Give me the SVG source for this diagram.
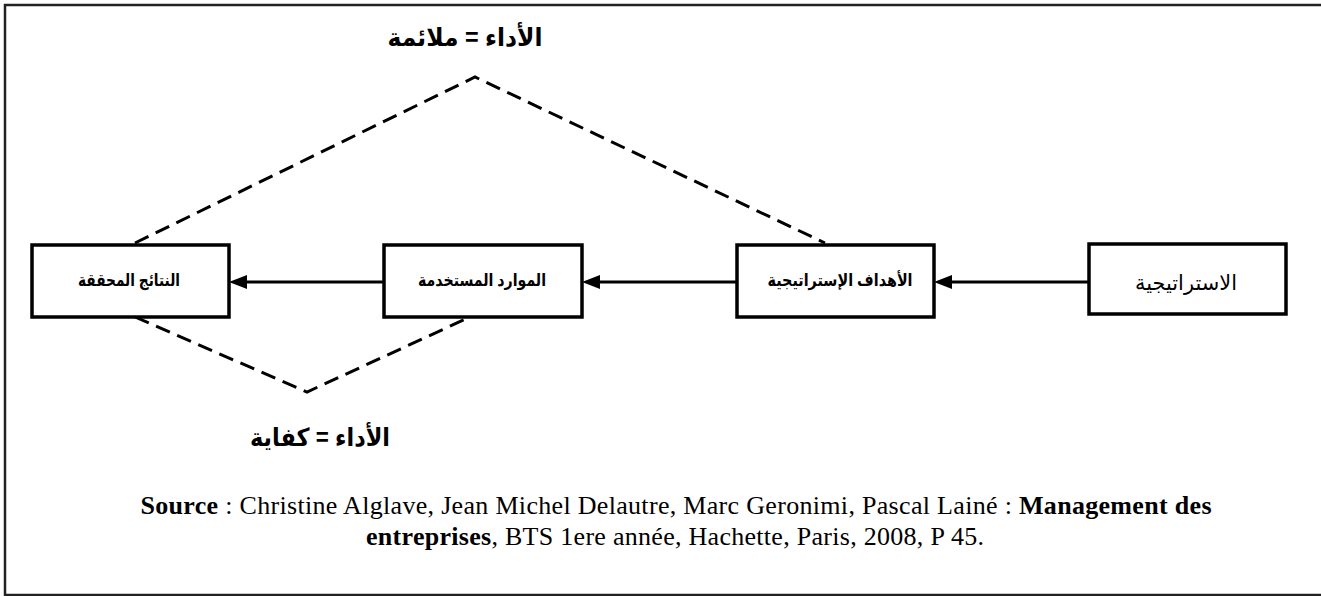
<svg xmlns="http://www.w3.org/2000/svg" width="1321" height="596" viewBox="0 0 1321 596">
<defs>
<marker id="arr" viewBox="0 0 18 14" refX="8" refY="7" markerWidth="18" markerHeight="14" markerUnits="userSpaceOnUse" orient="auto">
<path d="M0,0 L18,7 L0,14 z" fill="#000"/>
</marker>
</defs>
<style>
.box{fill:#fff;stroke:#000;stroke-width:3.5}
.lbl{font-family:"Liberation Sans","DejaVu Sans",sans-serif;font-size:17px;font-weight:bold;text-anchor:middle;fill:#000}
.lbln{font-family:"Liberation Sans","DejaVu Sans",sans-serif;font-size:21px;text-anchor:middle;fill:#000}
.big{font-family:"Liberation Sans","DejaVu Sans",sans-serif;font-size:25px;font-weight:bold;text-anchor:middle;fill:#000}
.conn{stroke:#000;stroke-width:3;fill:none}
.dash{stroke:#000;stroke-width:3;fill:none;stroke-dasharray:15 8}
.src{font-family:"Liberation Serif","Times New Roman",serif;font-size:26px;text-anchor:middle;fill:#000}
</style>
<rect x="0" y="0" width="1321" height="596" fill="#fff"/>
<rect x="5" y="5" width="1330" height="590" fill="none" stroke="#222" stroke-width="2.5"/>
<g id="connectors">
<polyline class="dash" points="135,243 475,77 825,243"/>
<polyline class="dash" points="135,317 307,392 470,317"/>
<path class="conn" d="M1089,282 L944,282" marker-end="url(#arr)"/>
<path class="conn" d="M737,282 L592,282" marker-end="url(#arr)"/>
<path class="conn" d="M384,282 L239,282" marker-end="url(#arr)"/>
</g>
<g id="node-results">
<rect class="box" x="32" y="245" width="197" height="72"/>
<text class="lbl" x="129" y="286" textLength="102" lengthAdjust="spacingAndGlyphs">النتائج المحققة</text>
</g>
<g id="node-resources">
<rect class="box" x="384" y="245" width="198" height="72"/>
<text class="lbl" x="482" y="286" textLength="128" lengthAdjust="spacingAndGlyphs">الموارد المستخدمة</text>
</g>
<g id="node-objectives">
<rect class="box" x="737" y="245" width="197" height="72"/>
<text class="lbl" x="840" y="286" textLength="145" lengthAdjust="spacingAndGlyphs">الأهداف الإستراتيجية</text>
</g>
<g id="node-strategy">
<rect class="box" x="1089" y="244" width="197" height="70"/>
<text class="lbln" x="1186" y="290" textLength="102" lengthAdjust="spacingAndGlyphs">الاستراتيجية</text>
</g>
<g id="label-top">
<text class="big" x="465" y="46" textLength="155" lengthAdjust="spacingAndGlyphs">الأداء = ملائمة</text>
</g>
<g id="label-bottom">
<text class="big" x="320" y="446" textLength="140" lengthAdjust="spacingAndGlyphs">الأداء = كفاية</text>
</g>
<g id="source">
<text class="src" x="676" y="514" textLength="1071" lengthAdjust="spacing"><tspan font-weight="bold">Source</tspan> : Christine Alglave, Jean Michel Delautre, Marc Geronimi, Pascal Lainé : <tspan font-weight="bold">Management des</tspan></text>
<text class="src" x="675" y="545" textLength="618" lengthAdjust="spacing"><tspan font-weight="bold">entreprises</tspan>, BTS 1ere année, Hachette, Paris, 2008, P 45.</text>
</g>
</svg>
